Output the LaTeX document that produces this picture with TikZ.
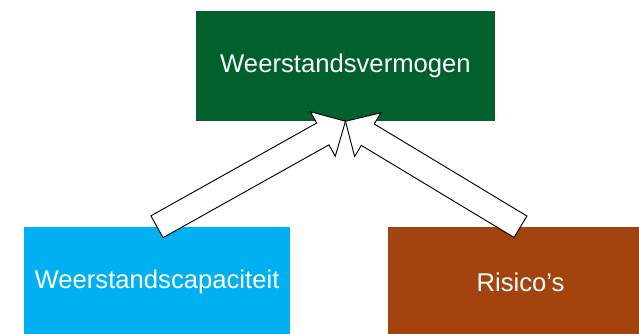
\documentclass[tikz,border=0pt]{standalone}
\usepackage{fontspec}
\setmainfont{Liberation Sans}
\usetikzlibrary{calc}
\definecolor{vermgreen}{HTML}{00602E}
\definecolor{capblue}{HTML}{00B0F0}
\definecolor{riskbrown}{HTML}{A3440F}

\begin{document}
\begin{tikzpicture}[x=0.03cm,y=-0.03cm,
  box/.style={minimum height=3.3cm, inner sep=0pt, text=white, font=\fontsize{21.9}{26}\selectfont},
  fat/.style={draw=black, fill=white, line width=0.8pt, line join=miter}]
\clip (0,0) rectangle (639,333);
\node[box, fill=vermgreen, minimum width=8.97cm] (vermogen) at (345.5,66) {Weerstandsvermogen};
\node[box, fill=capblue, minimum width=7.965cm] (capaciteit) at (157,282) {Weerstandscapaciteit};
\node[box, fill=riskbrown, minimum width=7.965cm] (risicos) at (520.5,282) {Risico’s};
% hollow block arrows into the top box
\foreach \src in {capaciteit,risicos}{
  \coordinate (head) at ($(vermogen.south)!0.78cm!(\src.north)$);
  \draw[fat] ($(\src.north)!0.375cm!90:(vermogen.south)$)
    -- ($(head)!0.375cm!-90:(\src.north)$)
    -- ($(head)!0.765cm!-90:(\src.north)$)
    -- (vermogen.south)
    -- ($(head)!0.765cm!90:(\src.north)$)
    -- ($(head)!0.375cm!90:(\src.north)$)
    -- ($(\src.north)!0.375cm!-90:(vermogen.south)$) -- cycle;
}
\end{tikzpicture}
\end{document}
